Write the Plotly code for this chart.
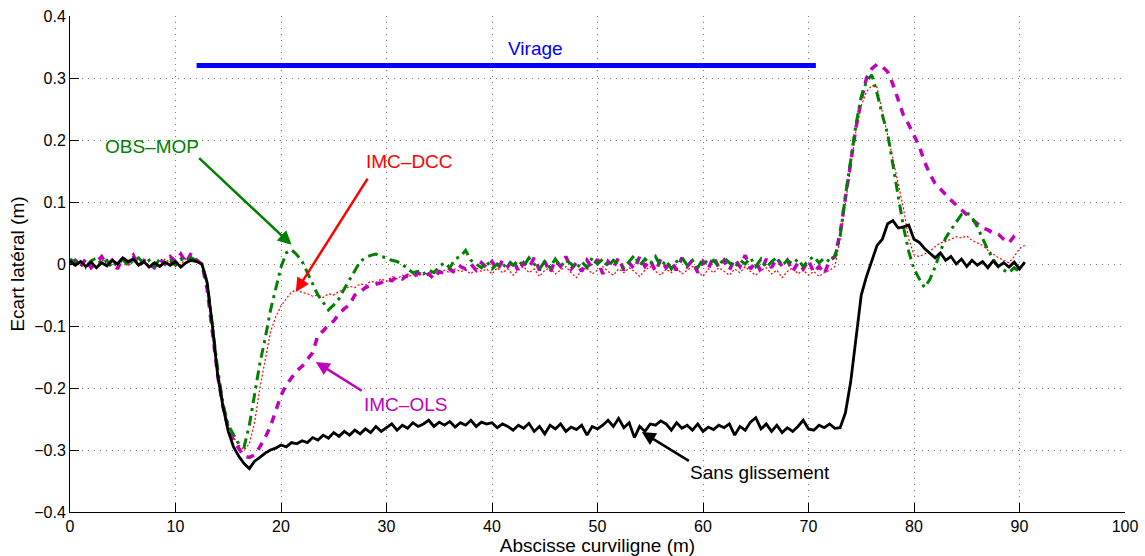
import numpy as np
import plotly.graph_objects as go

# abscissa grid (m), one sample every 0.5 m
x = np.arange(0, 90.75, 0.5)

# Sans glissement (reference, no slip)
sans_glissement = [
    0.005, -0.002, 0.004, -0.004, 0.003, -0.006, 0.002, -0.003, 0.006, 0.0,
    0.01, 0.004, 0.008, -0.002, 0.004, -0.005, 0.002, -0.004, 0.003, -0.002,
    0.004, -0.005, 0.002, 0.006, 0.004, 0.0, -0.03, -0.1, -0.18, -0.23,
    -0.27, -0.295, -0.31, -0.322, -0.33, -0.318, -0.312, -0.305, -0.3, -0.297,
    -0.292, -0.295, -0.288, -0.29, -0.285, -0.288, -0.28, -0.284, -0.276, -0.281,
    -0.272, -0.278, -0.27, -0.276, -0.268, -0.274, -0.266, -0.272, -0.262, -0.27,
    -0.264, -0.258, -0.268, -0.26, -0.265, -0.256, -0.262, -0.258, -0.252, -0.262,
    -0.255, -0.26, -0.254, -0.263, -0.256, -0.26, -0.252, -0.262, -0.255, -0.258,
    -0.256, -0.264, -0.258, -0.262, -0.268, -0.26, -0.265, -0.257, -0.27, -0.262,
    -0.274, -0.26, -0.266, -0.258, -0.27, -0.263, -0.267, -0.26, -0.276, -0.262,
    -0.266, -0.26, -0.252, -0.262, -0.249, -0.264, -0.256, -0.28, -0.262, -0.27,
    -0.258, -0.26, -0.253, -0.258, -0.268, -0.256, -0.265, -0.26, -0.268, -0.258,
    -0.27, -0.263, -0.267, -0.26, -0.264, -0.258, -0.276, -0.262, -0.268, -0.255,
    -0.248, -0.266, -0.258, -0.27, -0.26, -0.272, -0.264, -0.27, -0.262, -0.252,
    -0.266, -0.268, -0.26, -0.264, -0.258, -0.265, -0.264, -0.24, -0.19, -0.12,
    -0.05, -0.02, 0.005, 0.03, 0.04, 0.065, 0.07, 0.058, 0.06, 0.063,
    0.04, 0.035, 0.025, 0.018, 0.01, 0.018, 0.006, 0.012, 0.0, 0.008,
    -0.004, 0.006, -0.002, 0.004, -0.006, 0.005, -0.004, 0.002, -0.005, 0.003,
    -0.008, 0.003,
]

# OBS-MOP
obs_mop = [
    0.008, 0.002, 0.006, -0.004, 0.005, 0.01, 0.0, 0.006, -0.006, 0.004,
    0.008, -0.003, 0.006, 0.01, 0.0, 0.006, -0.004, 0.008, 0.002, 0.006,
    -0.002, 0.008, 0.004, 0.01, 0.005, 0.0, -0.03, -0.1, -0.17, -0.225,
    -0.26, -0.275, -0.29, -0.295, -0.26, -0.21, -0.16, -0.12, -0.075, -0.04,
    -0.005, 0.018, 0.023, 0.015, 0.004, -0.014, -0.031, -0.05, -0.062, -0.074,
    -0.066, -0.056, -0.04, -0.026, -0.01, 0.004, 0.01, 0.014, 0.016, 0.012,
    0.01, 0.006, 0.004, 0.0, -0.008, -0.014, -0.012, -0.016, -0.01, -0.014,
    -0.004, 0.002, -0.006, 0.008, 0.012, 0.022, 0.006, 0.0, -0.006, 0.004,
    -0.008, 0.0, -0.006, 0.004, -0.002, 0.006, -0.004, 0.01, 0.0, -0.008,
    0.004, -0.006, 0.008, -0.004, 0.006, 0.0, -0.008, 0.004, -0.006, 0.01,
    0.0, 0.008, -0.004, 0.006, 0.0, -0.006, 0.004, 0.014, -0.002, 0.008,
    0.0, 0.012, -0.004, 0.006, -0.008, 0.004, 0.01, -0.002, 0.006, -0.006,
    0.008, 0.0, 0.006, -0.004, 0.01, 0.002, -0.006, 0.006, 0.0, 0.01,
    -0.004, 0.008, -0.006, 0.004, 0.01, -0.002, 0.006, 0.0, 0.008, -0.004,
    0.006, 0.012, 0.002, 0.01, 0.004, 0.012, 0.045, 0.11, 0.165, 0.225,
    0.27, 0.295, 0.305, 0.275, 0.24, 0.21, 0.16, 0.11, 0.06, 0.02,
    -0.008, -0.024, -0.038, -0.025, -0.005, 0.02, 0.042, 0.055, 0.068, 0.08,
    0.083, 0.075, 0.06, 0.04, 0.023, 0.008, -0.005, -0.01, -0.014, -0.006,
    -0.012, None,
]

# IMC-DCC
imc_dcc = [
    0.004, -0.004, 0.006, -0.008, 0.002, -0.006, 0.008, -0.002, 0.004, -0.006,
    0.006, -0.004, 0.01, 0.0, 0.006, -0.004, 0.004, -0.002, 0.008, 0.002,
    0.006, -0.002, 0.01, 0.004, 0.008, 0.0, -0.035, -0.1, -0.17, -0.225,
    -0.26, -0.28, -0.292, -0.3, -0.29, -0.255, -0.2, -0.155, -0.11, -0.085,
    -0.068, -0.056, -0.045, -0.042, -0.046, -0.048, -0.052, -0.05, -0.054, -0.048,
    -0.05, -0.044, -0.042, -0.036, -0.038, -0.032, -0.034, -0.028, -0.03, -0.024,
    -0.028, -0.02, -0.024, -0.018, -0.022, -0.016, -0.02, -0.014, -0.018, -0.012,
    -0.016, -0.01, -0.014, -0.008, -0.012, -0.01, -0.016, -0.006, -0.012, -0.008,
    -0.016, -0.006, -0.014, -0.008, -0.018, -0.01, -0.004, -0.014, -0.008, -0.02,
    -0.01, -0.006, -0.016, -0.01, -0.004, -0.014, -0.022, -0.01, -0.006, -0.016,
    -0.01, -0.004, -0.012, -0.018, -0.008, -0.014, -0.006, -0.012, -0.02, -0.01,
    -0.004, -0.012, -0.018, -0.008, -0.014, -0.006, -0.016, -0.01, -0.004, -0.012,
    -0.02, -0.008, -0.014, -0.006, -0.012, -0.018, -0.008, -0.014, -0.004, -0.012,
    -0.018, -0.01, -0.006, -0.016, -0.01, -0.022, -0.012, -0.006, -0.016, -0.01,
    -0.018, -0.012, -0.02, -0.014, -0.01, -0.004, 0.04, 0.1, 0.16, 0.215,
    0.255, 0.278, 0.288, 0.285, 0.245, 0.21, 0.17, 0.13, 0.09, 0.04,
    0.015, 0.012, 0.016, 0.02, 0.028, 0.034, 0.036, 0.04, 0.044, 0.042,
    0.045, 0.038, 0.034, 0.03, 0.022, 0.016, 0.01, 0.006, 0.002, 0.012,
    0.025, 0.03,
]

# IMC-OLS
imc_ols = [
    0.0, 0.006, -0.004, 0.008, -0.006, 0.004, 0.012, -0.002, 0.006, -0.008,
    0.01, 0.002, 0.014, -0.004, 0.006, 0.0, -0.006, 0.008, 0.0, 0.012,
    0.004, 0.016, 0.002, 0.018, 0.006, 0.0, -0.04, -0.11, -0.18, -0.23,
    -0.265, -0.285, -0.298, -0.31, -0.312, -0.308, -0.295, -0.28, -0.262, -0.235,
    -0.212, -0.195, -0.183, -0.172, -0.165, -0.155, -0.143, -0.115, -0.108, -0.098,
    -0.092, -0.08, -0.072, -0.066, -0.05, -0.045, -0.038, -0.035, -0.032, -0.03,
    -0.024, -0.027, -0.02, -0.024, -0.018, -0.022, -0.014, -0.02, -0.016, -0.024,
    -0.012, -0.016, -0.008, -0.014, -0.004, -0.008, 0.0, -0.01, 0.002, -0.006,
    0.004, -0.01, 0.006, -0.004, 0.008, -0.012, 0.002, -0.006, 0.01, -0.01,
    0.004, -0.014, 0.006, -0.004, 0.012, -0.008, 0.002, -0.012, 0.006, -0.006,
    0.008, -0.016, 0.004, -0.006, 0.01, -0.01, 0.002, -0.008, 0.012, -0.004,
    0.006, -0.012, 0.008, -0.006, 0.004, -0.01, 0.01, -0.004, 0.006, -0.014,
    0.004, -0.008, 0.012, -0.006, 0.006, -0.01, 0.008, -0.004, 0.014, -0.008,
    0.004, -0.012, 0.008, -0.006, 0.01, -0.004, 0.006, -0.012, 0.002, -0.008,
    0.006, -0.014, -0.004, -0.016, 0.006, 0.012, 0.05, 0.11, 0.17, 0.22,
    0.265, 0.3, 0.315, 0.322, 0.318, 0.31, 0.29, 0.265, 0.24, 0.225,
    0.208, 0.19, 0.165, 0.145, 0.13, 0.12, 0.112, 0.103, 0.095, 0.088,
    0.08, 0.072, 0.065, 0.058, 0.055, 0.05, 0.048, 0.04, 0.034, 0.045,
    0.05, None,
]

# "Virage" (bend) interval
virage_x = [12, 70.7]
virage_y = 0.32

GREEN = '#008000'
RED = '#ff0000'
MAGENTA = '#bf00bf'
BLUE = '#0000ff'
FONT = 'Liberation Sans, Arial, sans-serif'

fig = go.Figure()

fig.add_trace(go.Scatter(x=virage_x, y=[virage_y, virage_y], mode='lines',
                         line=dict(color=BLUE, width=5), showlegend=False))
fig.add_trace(go.Scatter(x=x, y=imc_dcc, mode='lines', name='IMC-DCC',
                         line=dict(color=RED, width=1.2, dash='2px,2px')))
fig.add_trace(go.Scatter(x=x, y=imc_ols, mode='lines', name='IMC-OLS',
                         line=dict(color=MAGENTA, width=3.5, dash='8px,7px')))
fig.add_trace(go.Scatter(x=x, y=obs_mop, mode='lines', name='OBS-MOP',
                         line=dict(color=GREEN, width=3, dash='10px,5px,3px,5px')))
fig.add_trace(go.Scatter(x=x, y=sans_glissement, mode='lines', name='Sans glissement',
                         line=dict(color='black', width=2.8)))

# labels with arrows: (text, colour, text x, text y, tail x, tail y, tip x, tip y)
labels = [
    ('OBS\u2013MOP', GREEN, 7.8, 0.189, 12.1, 0.173, 21.0, 0.031),
    ('IMC\u2013DCC', RED, 32.2, 0.165, 28.3, 0.140, 21.4, -0.045),
    ('IMC\u2013OLS', MAGENTA, 31.8, -0.227, 27.8, -0.206, 23.3, -0.158),
    ('Sans glissement', 'black', 65.4, -0.337, 58.8, -0.319, 54.2, -0.271),
]
for txt, col, tx, ty, ax0, ay0, hx, hy in labels:
    fig.add_annotation(x=hx, y=hy, ax=ax0, ay=ay0, xref='x', yref='y',
                       axref='x', ayref='y', text='', showarrow=True,
                       arrowhead=2, arrowsize=1.1, arrowwidth=2.5, arrowcolor=col)
    fig.add_annotation(x=tx, y=ty, text=txt, showarrow=False,
                       font=dict(family=FONT, size=19, color=col))

fig.add_annotation(x=44.1, y=0.348, text='Virage', showarrow=False,
                   font=dict(family=FONT, size=19, color=BLUE))

axis_common = dict(
    showline=True, linecolor='black', linewidth=1,
    ticks='inside', ticklen=9, tickcolor='black', tickwidth=1,
    showgrid=True, gridcolor='#777777', gridwidth=1, griddash='1px,5px',
    zeroline=False, automargin=False,
    tickfont=dict(family=FONT, size=16, color='black'),
)

fig.update_xaxes(range=[0, 100], dtick=10, tick0=0,
                 title=dict(text='Abscisse curviligne (m)', standoff=2,
                            font=dict(family=FONT, size=19, color='black')),
                 **axis_common)
fig.update_yaxes(range=[-0.4, 0.4], dtick=0.1, tick0=0,
                 title=dict(text='Ecart latéral (m)', standoff=4,
                            font=dict(family=FONT, size=19, color='black')),
                 **axis_common)

fig.update_layout(
    width=1145, height=556,
    margin=dict(l=70, r=20, t=16, b=44),
    plot_bgcolor='white', paper_bgcolor='white',
    showlegend=False,
)

# drop the default page margin so the figure sits at the window's top-left corner
fig.write_html('out.html', config={'displayModeBar': False},
               post_script="document.body.style.margin='0';document.body.style.overflow='hidden';")
